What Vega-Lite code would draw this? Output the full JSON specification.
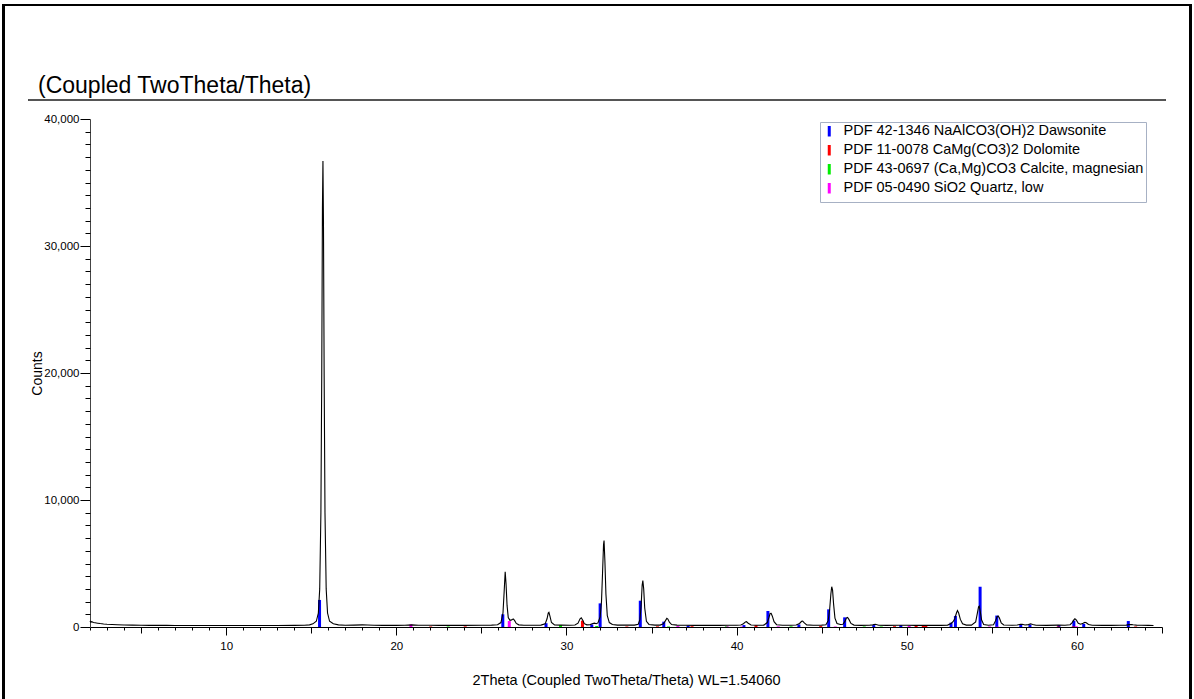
{
  "$schema": "https://vega.github.io/schema/vega-lite/v6.json",
  "width": 1072,
  "height": 508,
  "autosize": {"type": "none"},
  "padding": {"left": 90, "top": 119, "right": 32, "bottom": 72},
  "background": "white",
  "config": {
    "font": "Liberation Sans",
    "view": {"stroke": null},
    "axis": {"grid": false, "domainColor": "#000", "tickColor": "#000", "labelColor": "#000", "titleColor": "#000", "labelFont": "Liberation Sans", "titleFont": "Liberation Sans", "titleFontWeight": "normal"}
  },
  "title": {
    "text": "(Coupled TwoTheta/Theta)",
    "anchor": "start",
    "frame": "group",
    "orient": "top",
    "font": "Liberation Sans",
    "fontSize": 23,
    "fontWeight": "normal",
    "color": "#000",
    "dx": -52,
    "dy": 94,
    "offset": 0
  },
  "datasets": {
    "pattern": [
      {"t": 2.0, "c": 480}, {"t": 2.05, "c": 380}, {"t": 2.1, "c": 420}, {"t": 2.2, "c": 350}, {"t": 2.3, "c": 330}, {"t": 2.45, "c": 300}, {"t": 2.6, "c": 270}, {"t": 2.8, "c": 240}, {"t": 3.0, "c": 220}, {"t": 3.3, "c": 200}, {"t": 3.6, "c": 180}, {"t": 4.0, "c": 160}, {"t": 4.5, "c": 145}, {"t": 5.0, "c": 140}, {"t": 5.5, "c": 130}, {"t": 6.0, "c": 130}, {"t": 6.5, "c": 125}, {"t": 7.0, "c": 120}, {"t": 8.0, "c": 120}, {"t": 9.0, "c": 115}, {"t": 10.0, "c": 120}, {"t": 11.0, "c": 115}, {"t": 12.0, "c": 115}, {"t": 13.0, "c": 120}, {"t": 14.0, "c": 125}, {"t": 14.6, "c": 140},
      {"t": 14.9, "c": 170}, {"t": 15.1, "c": 250}, {"t": 15.3, "c": 450}, {"t": 15.42, "c": 1100}, {"t": 15.5, "c": 3000}, {"t": 15.57, "c": 9000}, {"t": 15.62, "c": 20000}, {"t": 15.66, "c": 33000}, {"t": 15.69, "c": 36700}, {"t": 15.72, "c": 32000}, {"t": 15.76, "c": 20000}, {"t": 15.81, "c": 9000}, {"t": 15.88, "c": 3000}, {"t": 15.96, "c": 1100}, {"t": 16.08, "c": 450}, {"t": 16.3, "c": 250}, {"t": 16.6, "c": 170}, {"t": 17.0, "c": 140}, {"t": 17.5, "c": 150}, {"t": 18.0, "c": 170}, {"t": 18.3, "c": 160}, {"t": 18.7, "c": 140}, {"t": 19.2, "c": 130}, {"t": 20.0, "c": 130}, {"t": 20.5, "c": 140}, {"t": 20.9, "c": 170}, {"t": 21.3, "c": 140}, {"t": 22.0, "c": 140}, {"t": 22.5, "c": 130}, {"t": 23.0, "c": 130}, {"t": 24.0, "c": 130}, {"t": 25.0, "c": 140}, {"t": 25.6, "c": 150},
      {"t": 25.95, "c": 180}, {"t": 26.15, "c": 350}, {"t": 26.27, "c": 1100}, {"t": 26.34, "c": 2800}, {"t": 26.4, "c": 4350}, {"t": 26.45, "c": 3400}, {"t": 26.51, "c": 1700}, {"t": 26.58, "c": 750}, {"t": 26.68, "c": 520}, {"t": 26.78, "c": 560}, {"t": 26.87, "c": 640}, {"t": 26.95, "c": 520}, {"t": 27.05, "c": 280}, {"t": 27.2, "c": 170}, {"t": 27.5, "c": 140}, {"t": 28.0, "c": 140}, {"t": 28.5, "c": 150},
      {"t": 28.75, "c": 250}, {"t": 28.86, "c": 650}, {"t": 28.93, "c": 1100}, {"t": 28.97, "c": 1150}, {"t": 29.03, "c": 850}, {"t": 29.12, "c": 350}, {"t": 29.3, "c": 160}, {"t": 29.7, "c": 150}, {"t": 30.2, "c": 140}, {"t": 30.5, "c": 160},
      {"t": 30.68, "c": 300}, {"t": 30.8, "c": 650}, {"t": 30.87, "c": 730}, {"t": 30.95, "c": 550}, {"t": 31.05, "c": 260}, {"t": 31.2, "c": 170}, {"t": 31.4, "c": 190}, {"t": 31.55, "c": 270}, {"t": 31.65, "c": 300}, {"t": 31.75, "c": 260}, {"t": 31.85, "c": 320},
      {"t": 31.98, "c": 800}, {"t": 32.06, "c": 2000}, {"t": 32.12, "c": 4200}, {"t": 32.18, "c": 6500}, {"t": 32.21, "c": 6800}, {"t": 32.26, "c": 5200}, {"t": 32.32, "c": 2600}, {"t": 32.4, "c": 900}, {"t": 32.52, "c": 350}, {"t": 32.7, "c": 200}, {"t": 33.0, "c": 150}, {"t": 33.5, "c": 150}, {"t": 34.0, "c": 150},
      {"t": 34.22, "c": 220}, {"t": 34.32, "c": 600}, {"t": 34.39, "c": 1700}, {"t": 34.45, "c": 3300}, {"t": 34.49, "c": 3650}, {"t": 34.54, "c": 3000}, {"t": 34.6, "c": 1500}, {"t": 34.7, "c": 450}, {"t": 34.85, "c": 200}, {"t": 35.2, "c": 150}, {"t": 35.5, "c": 150},
      {"t": 35.7, "c": 260}, {"t": 35.82, "c": 500}, {"t": 35.9, "c": 680}, {"t": 35.96, "c": 620}, {"t": 36.05, "c": 380}, {"t": 36.18, "c": 190}, {"t": 36.5, "c": 150}, {"t": 37.0, "c": 140}, {"t": 37.5, "c": 130}, {"t": 38.0, "c": 130}, {"t": 38.5, "c": 140}, {"t": 39.0, "c": 130}, {"t": 39.5, "c": 140}, {"t": 40.0, "c": 140}, {"t": 40.25, "c": 160},
      {"t": 40.4, "c": 260}, {"t": 40.52, "c": 400}, {"t": 40.58, "c": 420}, {"t": 40.68, "c": 300}, {"t": 40.85, "c": 160}, {"t": 41.2, "c": 140}, {"t": 41.6, "c": 150},
      {"t": 41.8, "c": 350}, {"t": 41.9, "c": 750}, {"t": 41.97, "c": 1060}, {"t": 42.03, "c": 1080}, {"t": 42.1, "c": 850}, {"t": 42.2, "c": 420}, {"t": 42.35, "c": 180}, {"t": 42.7, "c": 140}, {"t": 43.2, "c": 140}, {"t": 43.5, "c": 160},
      {"t": 43.7, "c": 280}, {"t": 43.82, "c": 450}, {"t": 43.88, "c": 470}, {"t": 43.98, "c": 320}, {"t": 44.12, "c": 170}, {"t": 44.5, "c": 140}, {"t": 45.0, "c": 150}, {"t": 45.25, "c": 180},
      {"t": 45.38, "c": 500}, {"t": 45.47, "c": 1400}, {"t": 45.54, "c": 2600}, {"t": 45.59, "c": 3170}, {"t": 45.64, "c": 2900}, {"t": 45.7, "c": 1800}, {"t": 45.78, "c": 700}, {"t": 45.9, "c": 280}, {"t": 46.1, "c": 200}, {"t": 46.25, "c": 220},
      {"t": 46.38, "c": 480}, {"t": 46.46, "c": 720}, {"t": 46.52, "c": 760}, {"t": 46.6, "c": 600}, {"t": 46.72, "c": 280}, {"t": 46.9, "c": 150}, {"t": 47.3, "c": 130}, {"t": 47.8, "c": 140}, {"t": 48.0, "c": 170}, {"t": 48.15, "c": 210}, {"t": 48.35, "c": 140}, {"t": 48.8, "c": 130}, {"t": 49.5, "c": 140}, {"t": 50.0, "c": 140}, {"t": 50.5, "c": 130}, {"t": 51.0, "c": 140}, {"t": 51.5, "c": 130}, {"t": 52.0, "c": 130}, {"t": 52.4, "c": 150},
      {"t": 52.6, "c": 280}, {"t": 52.72, "c": 420}, {"t": 52.82, "c": 650}, {"t": 52.92, "c": 1100}, {"t": 52.98, "c": 1290}, {"t": 53.05, "c": 1100}, {"t": 53.15, "c": 600}, {"t": 53.28, "c": 250}, {"t": 53.5, "c": 150}, {"t": 53.8, "c": 150},
      {"t": 54.05, "c": 400}, {"t": 54.15, "c": 1100}, {"t": 54.22, "c": 1600}, {"t": 54.26, "c": 1650}, {"t": 54.31, "c": 1300}, {"t": 54.4, "c": 550}, {"t": 54.52, "c": 200}, {"t": 54.8, "c": 140}, {"t": 55.1, "c": 180},
      {"t": 55.22, "c": 500}, {"t": 55.31, "c": 820}, {"t": 55.37, "c": 870}, {"t": 55.44, "c": 720}, {"t": 55.55, "c": 330}, {"t": 55.7, "c": 160}, {"t": 56.2, "c": 140}, {"t": 56.5, "c": 160},
      {"t": 56.68, "c": 220}, {"t": 56.78, "c": 210}, {"t": 56.95, "c": 160}, {"t": 57.15, "c": 190}, {"t": 57.28, "c": 250}, {"t": 57.4, "c": 200}, {"t": 57.6, "c": 140}, {"t": 58.2, "c": 130}, {"t": 58.9, "c": 150}, {"t": 59.3, "c": 140}, {"t": 59.6, "c": 180},
      {"t": 59.72, "c": 350}, {"t": 59.82, "c": 560}, {"t": 59.88, "c": 650}, {"t": 59.96, "c": 560}, {"t": 60.08, "c": 300}, {"t": 60.22, "c": 220}, {"t": 60.36, "c": 300}, {"t": 60.47, "c": 370}, {"t": 60.55, "c": 330}, {"t": 60.68, "c": 200}, {"t": 60.9, "c": 140}, {"t": 61.5, "c": 130}, {"t": 62.0, "c": 130}, {"t": 62.5, "c": 140}, {"t": 62.9, "c": 150}, {"t": 63.05, "c": 190}, {"t": 63.2, "c": 200}, {"t": 63.3, "c": 180}, {"t": 63.5, "c": 150}, {"t": 63.8, "c": 140}, {"t": 64.2, "c": 130}, {"t": 64.5, "c": 120}
    ],
    "sticks": [
      {"t": 15.49, "i": 2130, "p": "PDF 42-1346 NaAlCO3(OH)2 Dawsonite"},
      {"t": 26.26, "i": 1000, "p": "PDF 42-1346 NaAlCO3(OH)2 Dawsonite"},
      {"t": 28.8, "i": 300, "p": "PDF 42-1346 NaAlCO3(OH)2 Dawsonite"},
      {"t": 31.49, "i": 200, "p": "PDF 42-1346 NaAlCO3(OH)2 Dawsonite"},
      {"t": 31.98, "i": 1860, "p": "PDF 42-1346 NaAlCO3(OH)2 Dawsonite"},
      {"t": 34.34, "i": 2070, "p": "PDF 42-1346 NaAlCO3(OH)2 Dawsonite"},
      {"t": 35.72, "i": 420, "p": "PDF 42-1346 NaAlCO3(OH)2 Dawsonite"},
      {"t": 37.15, "i": 100, "p": "PDF 42-1346 NaAlCO3(OH)2 Dawsonite"},
      {"t": 40.43, "i": 150, "p": "PDF 42-1346 NaAlCO3(OH)2 Dawsonite"},
      {"t": 41.84, "i": 1260, "p": "PDF 42-1346 NaAlCO3(OH)2 Dawsonite"},
      {"t": 43.66, "i": 200, "p": "PDF 42-1346 NaAlCO3(OH)2 Dawsonite"},
      {"t": 45.41, "i": 1390, "p": "PDF 42-1346 NaAlCO3(OH)2 Dawsonite"},
      {"t": 46.35, "i": 760, "p": "PDF 42-1346 NaAlCO3(OH)2 Dawsonite"},
      {"t": 48.06, "i": 150, "p": "PDF 42-1346 NaAlCO3(OH)2 Dawsonite"},
      {"t": 49.65, "i": 150, "p": "PDF 42-1346 NaAlCO3(OH)2 Dawsonite"},
      {"t": 52.6, "i": 340, "p": "PDF 42-1346 NaAlCO3(OH)2 Dawsonite"},
      {"t": 52.86, "i": 870, "p": "PDF 42-1346 NaAlCO3(OH)2 Dawsonite"},
      {"t": 54.31, "i": 3170, "p": "PDF 42-1346 NaAlCO3(OH)2 Dawsonite"},
      {"t": 55.29, "i": 900, "p": "PDF 42-1346 NaAlCO3(OH)2 Dawsonite"},
      {"t": 56.7, "i": 210, "p": "PDF 42-1346 NaAlCO3(OH)2 Dawsonite"},
      {"t": 57.24, "i": 200, "p": "PDF 42-1346 NaAlCO3(OH)2 Dawsonite"},
      {"t": 58.94, "i": 150, "p": "PDF 42-1346 NaAlCO3(OH)2 Dawsonite"},
      {"t": 59.82, "i": 500, "p": "PDF 42-1346 NaAlCO3(OH)2 Dawsonite"},
      {"t": 60.4, "i": 250, "p": "PDF 42-1346 NaAlCO3(OH)2 Dawsonite"},
      {"t": 63.02, "i": 470, "p": "PDF 42-1346 NaAlCO3(OH)2 Dawsonite"},
      {"t": 22.02, "i": 40, "p": "PDF 11-0078 CaMg(CO3)2 Dolomite"},
      {"t": 24.05, "i": 50, "p": "PDF 11-0078 CaMg(CO3)2 Dolomite"},
      {"t": 30.94, "i": 500, "p": "PDF 11-0078 CaMg(CO3)2 Dolomite"},
      {"t": 33.55, "i": 40, "p": "PDF 11-0078 CaMg(CO3)2 Dolomite"},
      {"t": 35.35, "i": 50, "p": "PDF 11-0078 CaMg(CO3)2 Dolomite"},
      {"t": 37.38, "i": 60, "p": "PDF 11-0078 CaMg(CO3)2 Dolomite"},
      {"t": 41.14, "i": 140, "p": "PDF 11-0078 CaMg(CO3)2 Dolomite"},
      {"t": 44.94, "i": 70, "p": "PDF 11-0078 CaMg(CO3)2 Dolomite"},
      {"t": 49.28, "i": 60, "p": "PDF 11-0078 CaMg(CO3)2 Dolomite"},
      {"t": 50.55, "i": 100, "p": "PDF 11-0078 CaMg(CO3)2 Dolomite"},
      {"t": 50.97, "i": 90, "p": "PDF 11-0078 CaMg(CO3)2 Dolomite"},
      {"t": 51.12, "i": 120, "p": "PDF 11-0078 CaMg(CO3)2 Dolomite"},
      {"t": 58.9, "i": 40, "p": "PDF 11-0078 CaMg(CO3)2 Dolomite"},
      {"t": 59.78, "i": 40, "p": "PDF 11-0078 CaMg(CO3)2 Dolomite"},
      {"t": 63.45, "i": 40, "p": "PDF 11-0078 CaMg(CO3)2 Dolomite"},
      {"t": 23.05, "i": 40, "p": "PDF 43-0697 (Ca,Mg)CO3 Calcite, magnesian"},
      {"t": 29.65, "i": 150, "p": "PDF 43-0697 (Ca,Mg)CO3 Calcite, magnesian"},
      {"t": 31.78, "i": 80, "p": "PDF 43-0697 (Ca,Mg)CO3 Calcite, magnesian"},
      {"t": 36.0, "i": 40, "p": "PDF 43-0697 (Ca,Mg)CO3 Calcite, magnesian"},
      {"t": 39.4, "i": 50, "p": "PDF 43-0697 (Ca,Mg)CO3 Calcite, magnesian"},
      {"t": 43.2, "i": 50, "p": "PDF 43-0697 (Ca,Mg)CO3 Calcite, magnesian"},
      {"t": 47.5, "i": 40, "p": "PDF 43-0697 (Ca,Mg)CO3 Calcite, magnesian"},
      {"t": 48.5, "i": 40, "p": "PDF 43-0697 (Ca,Mg)CO3 Calcite, magnesian"},
      {"t": 20.86, "i": 200, "p": "PDF 05-0490 SiO2 Quartz, low"},
      {"t": 26.64, "i": 470, "p": "PDF 05-0490 SiO2 Quartz, low"},
      {"t": 36.55, "i": 70, "p": "PDF 05-0490 SiO2 Quartz, low"},
      {"t": 39.47, "i": 40, "p": "PDF 05-0490 SiO2 Quartz, low"},
      {"t": 40.3, "i": 30, "p": "PDF 05-0490 SiO2 Quartz, low"},
      {"t": 42.45, "i": 50, "p": "PDF 05-0490 SiO2 Quartz, low"},
      {"t": 45.8, "i": 40, "p": "PDF 05-0490 SiO2 Quartz, low"},
      {"t": 50.14, "i": 90, "p": "PDF 05-0490 SiO2 Quartz, low"},
      {"t": 54.87, "i": 40, "p": "PDF 05-0490 SiO2 Quartz, low"},
      {"t": 55.34, "i": 30, "p": "PDF 05-0490 SiO2 Quartz, low"},
      {"t": 59.96, "i": 60, "p": "PDF 05-0490 SiO2 Quartz, low"}
    ]
  },
  "layer": [
    {
      "data": {"name": "sticks"},
      "mark": {"type": "rect", "fill": null, "fillOpacity": 0, "stroke": "#000", "strokeWidth": 2, "clip": false},
      "encoding": {
        "x": {"datum": -3.06, "type": "quantitative", "scale": {"domain": [2, 65], "nice": false, "zero": false}, "axis": null},
        "x2": {"datum": 66.65},
        "y": {"datum": 48976, "type": "quantitative", "scale": {"domain": [0, 40000], "nice": false}, "axis": null},
        "y2": {"datum": -8000}
      }
    },
    {
      "data": {"name": "sticks"},
      "mark": {"type": "rule", "stroke": "#555", "strokeWidth": 2, "clip": false},
      "encoding": {
        "x": {"datum": -1.59, "type": "quantitative", "scale": {"domain": [2, 65], "nice": false, "zero": false}, "axis": null},
        "x2": {"datum": 65.18},
        "y": {"datum": 41500, "type": "quantitative", "scale": {"domain": [0, 40000], "nice": false}, "axis": null}
      }
    },
    {
      "data": {"name": "sticks"},
      "mark": {"type": "rule", "strokeWidth": 3},
      "encoding": {
        "x": {"field": "t", "type": "quantitative", "scale": {"domain": [2, 65], "nice": false, "zero": false}, "axis": null},
        "y": {"field": "i", "type": "quantitative", "scale": {"domain": [0, 40000], "nice": false}, "axis": null},
        "y2": {"datum": 0},
        "color": {
          "field": "p",
          "type": "nominal",
          "scale": {
            "domain": ["PDF 42-1346 NaAlCO3(OH)2 Dawsonite", "PDF 11-0078 CaMg(CO3)2 Dolomite", "PDF 43-0697 (Ca,Mg)CO3 Calcite, magnesian", "PDF 05-0490 SiO2 Quartz, low"],
            "range": ["#0000ff", "#ff0000", "#00ee00", "#ff00ff"]
          },
          "legend": {
            "title": null,
            "orient": "none",
            "legendX": 730,
            "legendY": 3,
            "fillColor": "#ffffff",
            "strokeColor": "#a7b1c4",
            "padding": 2,
            "rowPadding": -7.5,
            "labelFont": "Liberation Sans",
            "labelFontSize": 14.5,
            "labelColor": "#000",
            "labelLimit": 0,
            "labelOffset": 7,
            "symbolType": "M0,-1L0,1",
            "symbolSize": 110,
            "symbolStrokeWidth": 3
          }
        }
      }
    },
    {
      "data": {"name": "pattern"},
      "mark": {"type": "line", "color": "#000", "strokeWidth": 1.1},
      "encoding": {
        "x": {
          "field": "t", "type": "quantitative",
          "scale": {"domain": [2, 65], "nice": false, "zero": false},
          "axis": {"orient": "bottom", "values": [10, 20, 30, 40, 50, 60], "tickSize": 8, "labelPadding": 5, "labelFontSize": 11.5, "title": "2Theta (Coupled TwoTheta/Theta) WL=1.54060", "titleFontSize": 14.5, "titlePadding": 22, "domainWidth": 1.2}
        },
        "y": {
          "field": "c", "type": "quantitative",
          "scale": {"domain": [0, 40000], "nice": false},
          "axis": {"orient": "left", "values": [0, 10000, 20000, 30000, 40000], "format": ",d", "tickSize": 10, "labelPadding": 1, "labelFontSize": 11.5, "title": "Counts", "titleFontSize": 14, "titlePadding": -1, "domainColor": "#444"}
        }
      }
    },
    {
      "data": {"name": "pattern"},
      "mark": {"type": "point", "opacity": 0},
      "encoding": {
        "x": {
          "field": "t", "type": "quantitative",
          "scale": {"domain": [2, 65], "nice": false, "zero": false},
          "axis": {"orient": "bottom", "values": [5, 15, 25, 35, 45, 55, 65], "tickSize": 6, "labels": false, "domain": false, "title": null}
        },
        "y": {
          "field": "c", "type": "quantitative",
          "scale": {"domain": [0, 40000], "nice": false},
          "axis": {"orient": "left", "values": [1000, 2000, 3000, 4000, 5000, 6000, 7000, 8000, 9000, 11000, 12000, 13000, 14000, 15000, 16000, 17000, 18000, 19000, 21000, 22000, 23000, 24000, 25000, 26000, 27000, 28000, 29000, 31000, 32000, 33000, 34000, 35000, 36000, 37000, 38000, 39000], "tickSize": 5, "labels": false, "domain": false, "title": null}
        }
      }
    },
    {
      "data": {"name": "pattern"},
      "mark": {"type": "point", "opacity": 0},
      "encoding": {
        "x": {
          "field": "t", "type": "quantitative",
          "scale": {"domain": [2, 65], "nice": false, "zero": false},
          "axis": {"orient": "bottom", "values": [2, 3, 4, 6, 7, 8, 9, 11, 12, 13, 14, 16, 17, 18, 19, 21, 22, 23, 24, 26, 27, 28, 29, 31, 32, 33, 34, 36, 37, 38, 39, 41, 42, 43, 44, 46, 47, 48, 49, 51, 52, 53, 54, 56, 57, 58, 59, 61, 62, 63, 64], "tickSize": 3, "labels": false, "domain": false, "title": null}
        },
        "y": {
          "field": "c", "type": "quantitative",
          "scale": {"domain": [0, 40000], "nice": false},
          "axis": null
        }
      }
    }
  ],
  "resolve": {"axis": {"x": "independent", "y": "independent"}}
}
